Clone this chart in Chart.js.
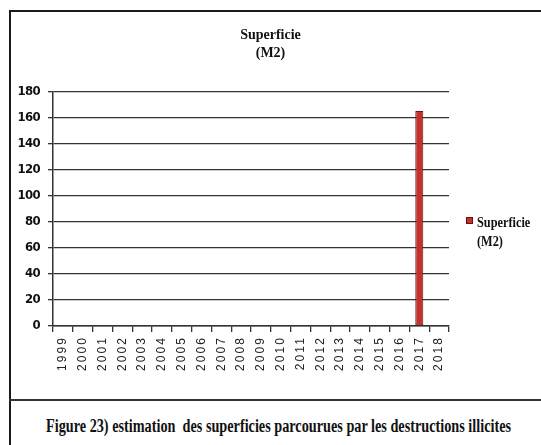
<!DOCTYPE html>
<html>
<head>
<meta charset="utf-8">
<script src="https://cdn.jsdelivr.net/npm/chart.js@4/dist/chart.umd.min.js"></script>
<style>
  html, body { margin: 0; padding: 0; background: #fff; }
  #page { position: relative; width: 541px; height: 445px; overflow: hidden; background: #fff; }
  #frame { position: absolute; left: 9px; top: 10px; width: 560px; height: 460px;
           border-left: 2px solid #1a1a1a; border-top: 2px solid #1a1a1a; }
  #sep { position: absolute; left: 9px; top: 399px; width: 540px; height: 0;
         border-top: 2px solid #333; }
  #wrap { position: absolute; left: 0; top: 0; width: 541px; height: 398px; }
  #legend { position: absolute; left: 466px; top: 213px; font-family: "Liberation Serif", "Times New Roman", serif;
            font-weight: bold; font-size: 15px; line-height: 19px; color: #111; }
  #legend .sw { position: absolute; left: 0; top: 4px; width: 7px; height: 7px; background: #c0302c;
                border: 1px solid #6a1010; box-sizing: border-box; }
  #legend .tx { position: absolute; left: 11px; top: 0; white-space: nowrap; transform: scaleX(0.82); transform-origin: left top; }
  #caption { position: absolute; left: 46px; top: 416px; white-space: nowrap;
             font-family: "Liberation Serif", "Times New Roman", serif; font-weight: bold; font-size: 18px; color: #111;
             transform-origin: left top; }
</style>
</head>
<body>
<div id="page">
  <div id="frame"></div>
  <div id="wrap"><canvas id="c"></canvas></div>
  <div id="sep"></div>
  <div id="legend"></div>
  <div id="caption">Figure 23) estimation&nbsp; des superficies parcourues par les destructions illicites</div>
</div>
<script>
const years = ["1999","2000","2001","2002","2003","2004","2005","2006","2007","2008","2009","2010","2011","2012","2013","2014","2015","2016","2017","2018"];
const superficie = [0,0,0,0,0,0,0,0,0,0,0,0,0,0,0,0,0,0,165,0];
const seriesName = ["Superficie", "(M2)"];
const yTicks = [0,20,40,60,80,100,120,140,160,180];

const ctx = document.getElementById('c');
const chart = new Chart(ctx, {
  type: 'bar',
  data: {
    labels: years,
    datasets: [{
      label: seriesName.join(' '),
      data: superficie,
      backgroundColor: '#c3312d',
      borderColor: '#6e1212',
      borderWidth: 1,
      borderSkipped: false,
      barPercentage: 0.45,
      categoryPercentage: 0.9
    }]
  },
  options: {
    responsive: true,
    maintainAspectRatio: false,
    animation: false,
    layout: { padding: { left: 0, right: 0, top: 12, bottom: 0 } },
    plugins: {
      legend: { display: false },
      tooltip: { enabled: false },
      title: {
        display: true,
        text: seriesName,
        color: '#111',
        font: { family: "'Liberation Serif', 'Times New Roman', serif", weight: 'bold', size: 14, lineHeight: 1.3 },
        padding: { top: 14, bottom: 29 }
      }
    },
    scales: {
      x: {
        grid: { display: true, drawOnChartArea: false, drawTicks: true, tickLength: 6, color: '#333', lineWidth: 1.3, offset: true },
        border: { display: true, color: '#333', width: 1.5 },
        ticks: {
          minRotation: 90, maxRotation: 90, autoSkip: false, padding: 4,
          color: '#222',
          font: { family: "'Liberation Sans', Arial, sans-serif", size: 12 }
        },
        afterFit: (s) => { s.height = 72; }
      },
      y: {
        min: 0, max: 180,
        afterBuildTicks: (s) => { s.ticks = yTicks.map(v => ({ value: v })); },
        grid: { color: '#333', lineWidth: 1.3, tickLength: 5, drawTicks: true },
        border: { display: true, color: '#333', width: 1.5 },
        ticks: {
          padding: 8, color: '#111',
          font: { family: "'Liberation Sans Narrow', 'DejaVu Sans Condensed', sans-serif", size: 13, weight: 'bold' }
        },
        afterFit: (s) => { s.width = 53; }
      },
      reserve: {
        position: 'right', display: true,
        grid: { display: false }, border: { display: false },
        ticks: { display: false },
        afterFit: (s) => { s.width = 92; }
      }
    }
  },
  plugins: [{
    id: 'labelSpacing',
    beforeDraw(c) {
      const sx = c.scales.x, sy = c.scales.y;
      if (!sx.__patched) {
        const orig = sx.drawLabels.bind(sx);
        sx.drawLabels = function (area) {
          const g = this.ctx; g.save(); g.letterSpacing = '2.1px'; orig(area); g.restore();
        };
        sx.__patched = true;
      }
      if (!sy.__patched) {
        const origY = sy.drawLabels.bind(sy);
        sy.drawLabels = function (area) {
          const g = this.ctx; g.save(); g.letterSpacing = '-0.6px'; origY(area); g.restore();
        };
        sy.__patched = true;
      }
    }
  }]
});
chart.draw();

// legend built from the dataset
const lg = document.getElementById('legend');
const ds = chart.data.datasets[0];
lg.innerHTML = '<span class="sw"></span><span class="tx">' + seriesName.join('<br>') + '</span>';
lg.querySelector('.sw').style.background = ds.backgroundColor;

// fit caption width
const cap = document.getElementById('caption');
const w = cap.getBoundingClientRect().width;
cap.style.transform = 'scaleX(' + (465 / w) + ')';
</script>
</body>
</html>
